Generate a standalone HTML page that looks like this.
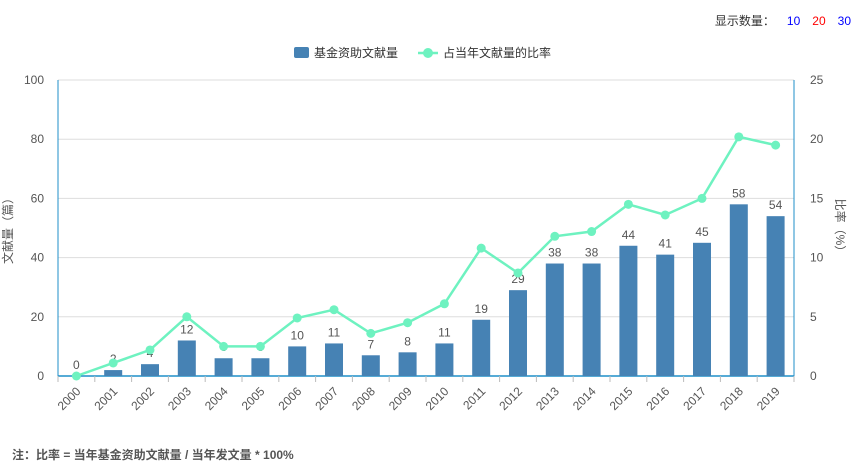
<!DOCTYPE html>
<html><head><meta charset="utf-8"><style>
body{margin:0;width:863px;height:475px;background:#fff;font-family:"Liberation Sans","Noto Sans CJK SC",sans-serif;overflow:hidden;position:relative}
.top{position:absolute;top:12px;right:12px;font-size:12px;color:#333}
.top span{margin-left:12px;cursor:pointer}
.note{position:absolute;left:12px;top:446px;font-size:12px;font-weight:bold;color:#555}
</style></head><body>
<div class="top">显示数量：<span style="color:#00f">10</span><span style="color:#f00">20</span><span style="color:#00f">30</span></div>
<svg id="c" width="863" height="475" style="position:absolute;left:0;top:0"></svg>
<div class="note">注：比率 = 当年基金资助文献量 / 当年发文量 * 100%</div>
<script>
const categories=["2000","2001","2002","2003","2004","2005","2006","2007","2008","2009","2010","2011","2012","2013","2014","2015","2016","2017","2018","2019"];
const counts=[0,2,4,12,6,6,10,11,7,8,11,19,29,38,38,44,41,45,58,54];
const ratios=[0,1.1,2.2,5.0,2.5,2.5,4.9,5.6,3.6,4.5,6.1,10.8,8.7,11.8,12.2,14.5,13.6,15.0,20.2,19.5];
const leftTicks=[0,20,40,60,80,100];
const rightTicks=[0,5,10,15,20,25];
const svg=document.getElementById('c');const NS='http://www.w3.org/2000/svg';
const X0=58,X1=794,Y0=376,Y1=80;
const bw=(X1-X0)/categories.length;
const xc=i=>X0+bw*(i+0.5);
const yl=v=>Y0-(v/100)*(Y0-Y1);
const yr=v=>Y0-(v/25)*(Y0-Y1);
function mk(t,a,txt){const e=document.createElementNS(NS,t);for(const k in a)e.setAttribute(k,a[k]);if(txt!=null)e.textContent=txt;svg.appendChild(e);return e;}
leftTicks.forEach((v,i)=>{
 if(v>0){const g=mk('line',{x1:X0,x2:X1,y1:yl(v),y2:yl(v),stroke:'#ddd'});
 
 }
 const t=mk('text',{x:X0-14,y:yl(v)+4,'text-anchor':'end','font-size':12,fill:'#555'},v);
 
 
});
rightTicks.forEach(v=>{
 const t=mk('text',{x:X1+16,y:yr(v)+4,'text-anchor':'start','font-size':12,fill:'#555'},v);
 
 
});
let a=mk('line',{x1:X0,x2:X0,y1:Y1,y2:Y0,stroke:'#1f8fc9'});


a=mk('line',{x1:X1,x2:X1,y1:Y1,y2:Y0,stroke:'#1f8fc9'});


a=mk('line',{x1:X0,x2:X1,y1:Y0,y2:Y0,stroke:'#1f8fc9','stroke-width':1.5});


for(let i=0;i<=categories.length;i++){const t=mk('line',{x1:X0+bw*i,x2:X0+bw*i,y1:Y0,y2:Y0+6,stroke:'#bbb'});

}
categories.forEach((c,i)=>{
 const x=xc(i);
 const t=mk('text',{x:x+5,y:Y0+16,'text-anchor':'end','font-size':12,fill:'#555',transform:`rotate(-45 ${x+5} ${Y0+16})`},c);
 
 
 const b=mk('rect',{x:x-9,y:yl(counts[i]),width:18,height:Y0-yl(counts[i]),fill:'#4682b4'});
 
 
 const l=mk('text',{x:x,y:yl(counts[i])-7,'text-anchor':'middle','font-size':12,fill:'#555'},counts[i]);
 
 
});
const pl=mk('polyline',{points:ratios.map((v,i)=>xc(i)+','+yr(v)).join(' '),fill:'none',stroke:'#6ef2c0','stroke-width':2.5});


ratios.forEach((v,i)=>{const p=mk('circle',{cx:xc(i),cy:yr(v),r:4.5,fill:'#6ef2c0'});

});
let t=mk('text',{x:12,y:228,'text-anchor':'middle','font-size':12,fill:'#555',transform:'rotate(-90 12 228)'},'文献量（篇）');


t=mk('text',{x:836,y:228,'text-anchor':'middle','font-size':12,fill:'#555',transform:'rotate(90 836 228)'},'比率（%）');


// legend
let r=mk('rect',{x:294,y:47,width:15,height:11,fill:'#4682b4',rx:2});


t=mk('text',{x:314,y:57,'font-size':12,fill:'#333'},'基金资助文献量');


r=mk('line',{x1:418,x2:438,y1:53,y2:53,stroke:'#6ef2c0','stroke-width':2.5});


r=mk('circle',{cx:428,cy:53,r:5,fill:'#6ef2c0'});


t=mk('text',{x:443,y:57,'font-size':12,fill:'#333'},'占当年文献量的比率');


</script>
</body></html>
